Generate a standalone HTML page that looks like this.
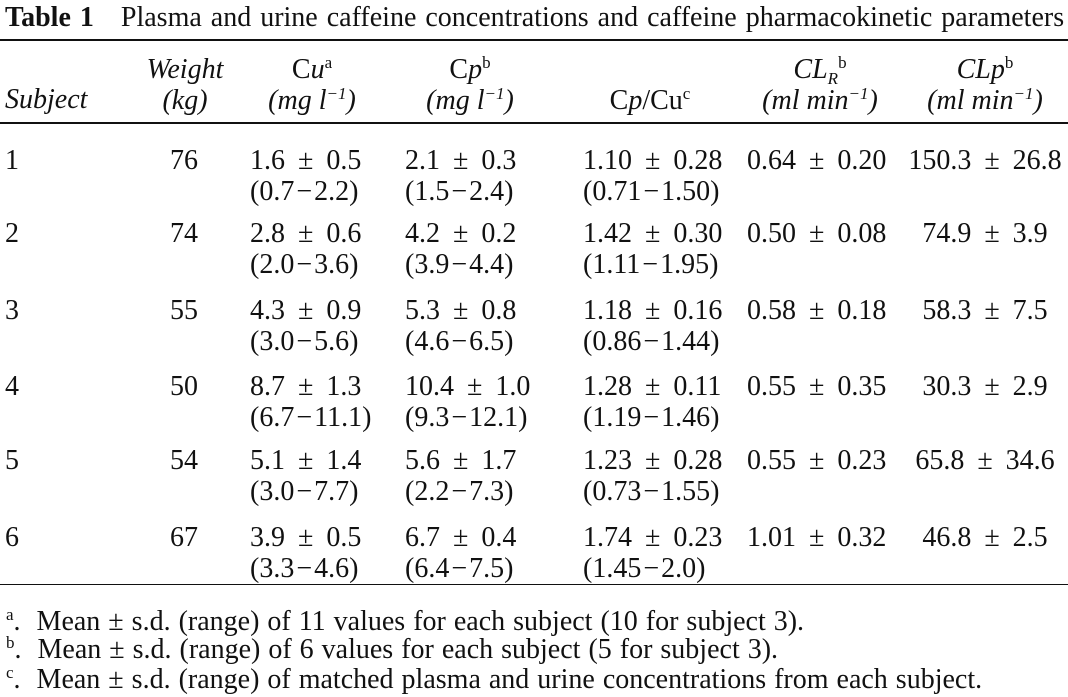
<!DOCTYPE html>
<html><head><meta charset="utf-8"><style>
body{margin:0;width:1068px;height:697px;background:#fff;overflow:hidden;font-family:"Liberation Serif",serif;color:#111;font-size:28px}
.a{position:absolute;white-space:nowrap;line-height:31px}
.c{transform:translateX(-50%)}
.hr{position:absolute;left:0;width:1068px;background:#111}
i{font-style:italic}
sup{font-size:17px;vertical-align:10px;line-height:0}
sub{font-size:17px;vertical-align:-6px;line-height:0}
.v{word-spacing:6px}
.m{margin:0 2px}
.f{font-size:28px;word-spacing:1px}
</style></head><body>
<div class="a" style="left:5px;top:2px;word-spacing:2px"><b>Table 1</b>&nbsp;&nbsp;&nbsp;Plasma and urine caffeine concentrations and caffeine pharmacokinetic parameters</div>
<div class="hr" style="top:39px;height:2px"></div>
<div class="a" style="left:5px;top:84px"><i>Subject</i></div>
<div class="a c" style="left:185px;top:54px;text-align:center"><i>Weight</i><br><i>(kg)</i></div>
<div class="a c" style="left:312px;top:54px;text-align:center">C<i>u</i><sup>a</sup><br><i>(mg l<sup>−1</sup>)</i></div>
<div class="a c" style="left:470px;top:54px;text-align:center">C<i>p</i><sup>b</sup><br><i>(mg l<sup>−1</sup>)</i></div>
<div class="a c" style="left:650px;top:85px">C<i>p</i>/Cu<sup>c</sup></div>
<div class="a c" style="left:820px;top:54px;text-align:center"><i>CL<sub>R</sub></i><sup>b</sup><br><i>(ml min<sup>−1</sup>)</i></div>
<div class="a c" style="left:985px;top:54px;text-align:center"><i>CLp</i><sup>b</sup><br><i>(ml min<sup>−1</sup>)</i></div>
<div class="hr" style="top:122px;height:2px"></div>
<div id="rows"></div>
<div class="hr" style="top:584px;height:1px"></div>
<div class="a f" style="left:30px;top:606px"><sup style="margin-left:-24px">a</sup>.&nbsp; Mean ± s.d. (range) of 11 values for each subject (10 for subject 3).</div>
<div class="a f" style="left:30px;top:634px"><sup style="margin-left:-24px">b</sup>.&nbsp; Mean ± s.d. (range) of 6 values for each subject (5 for subject 3).</div>
<div class="a f" style="left:30px;top:664px"><sup style="margin-left:-24px">c</sup>.&nbsp; Mean ± s.d. (range) of matched plasma and urine concentrations from each subject.</div>
<script>
const subjects=["1","2","3","4","5","6"];
const weights=["76","74","55","50","54","67"];
const cu=[["1.6 ± 0.5","(0.7−2.2)"],["2.8 ± 0.6","(2.0−3.6)"],["4.3 ± 0.9","(3.0−5.6)"],["8.7 ± 1.3","(6.7−11.1)"],["5.1 ± 1.4","(3.0−7.7)"],["3.9 ± 0.5","(3.3−4.6)"]];
const cp=[["2.1 ± 0.3","(1.5−2.4)"],["4.2 ± 0.2","(3.9−4.4)"],["5.3 ± 0.8","(4.6−6.5)"],["10.4 ± 1.0","(9.3−12.1)"],["5.6 ± 1.7","(2.2−7.3)"],["6.7 ± 0.4","(6.4−7.5)"]];
const cpcu=[["1.10 ± 0.28","(0.71−1.50)"],["1.42 ± 0.30","(1.11−1.95)"],["1.18 ± 0.16","(0.86−1.44)"],["1.28 ± 0.11","(1.19−1.46)"],["1.23 ± 0.28","(0.73−1.55)"],["1.74 ± 0.23","(1.45−2.0)"]];
const clr=["0.64 ± 0.20","0.50 ± 0.08","0.58 ± 0.18","0.55 ± 0.35","0.55 ± 0.23","1.01 ± 0.32"];
const clp=["150.3 ± 26.8","74.9 ± 3.9","58.3 ± 7.5","30.3 ± 2.9","65.8 ± 34.6","46.8 ± 2.5"];
const rowTops=[145,218,295,371,445,522];
const host=document.getElementById('rows');
function fmt(arr){return arr.map(s=>s.replace('−','<span class="m">−</span>')).join('<br>');}
function cell(name,html,left,top,cls){
  const d=document.createElement('div');
  d.className='a v '+(cls||'');
  d.style.left=left+'px';d.style.top=top+'px';
  d.innerHTML=html;
  
  
  host.appendChild(d);
}
subjects.forEach((s,i)=>{
  const t=rowTops[i];
  cell('subject-'+s,s,5,t);
  cell('weight-'+s,weights[i],184,t,'c');
  cell('cu-'+s,fmt(cu[i]),250,t);
  cell('cp-'+s,fmt(cp[i]),405,t);
  cell('cpcu-'+s,fmt(cpcu[i]),583,t);
  cell('clr-'+s,clr[i],747,t);
  cell('clp-'+s,clp[i],985,t,'c');
});
</script>
</body></html>
